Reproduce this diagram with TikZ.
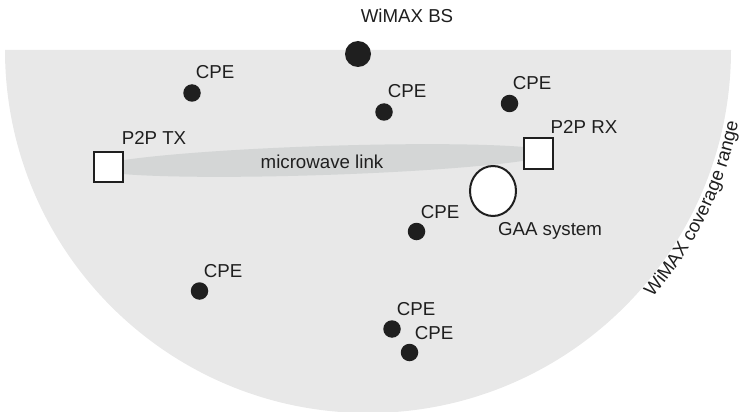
\documentclass[tikz,border=0pt]{standalone}
\usepackage{fontspec}
\setmainfont{Liberation Sans}
\usetikzlibrary{shapes.geometric,decorations.text}
\definecolor{ink}{HTML}{1F1F1F}
\definecolor{cover}{HTML}{E8E8E8}
\definecolor{linkgrey}{HTML}{D4D6D6}
\begin{document}
\begin{tikzpicture}[x=1pt,y=-1pt,
  lbl/.style={font=\fontsize{18.7}{22}\selectfont, text=ink, inner sep=0, anchor=base},
  cpe/.style={circle, fill=ink, minimum size=17.5pt, inner sep=0},
  bs/.style={circle, fill=ink, minimum size=26pt, inner sep=0},
  p2p/.style={rectangle, draw=ink, line width=2pt, fill=white, minimum width=29pt, minimum height=30pt, inner sep=0},
  gaa/.style={ellipse, draw=ink, line width=2pt, fill=white, minimum width=46pt, minimum height=50pt, inner sep=0},
  band/.style={ellipse, fill=linkgrey, minimum width=456pt, minimum height=29pt, inner sep=0}]
\useasboundingbox (0,0) rectangle (740,412);
\coordinate (ctr) at (368,50);
% coverage half-disc
\fill[cover] (5,50) arc[start angle=180, end angle=0, radius=363] -- cycle;
% microwave link band
\node[band, rotate=1.9] (link) at (323.25,160.5) {};
\node[lbl] (linklbl) at (322,168) {microwave link};
% P2P nodes
\node[p2p] (tx) at (108.5,167) {};
\node[p2p] (rx) at (538,153.5) {};
\node[lbl] (txlbl) at (154,145) {P2P TX};
\node[lbl] (rxlbl) at (584,134) {P2P RX};
% GAA
\node[gaa] (gaa) at (493,191) {};
\node[lbl] (gaalbl) at (550,235) {GAA system};
% base station
\node[bs] (bs) at (358,54) {};
\node[lbl] (bslbl) at (407,23) {WiMAX BS};
% CPEs
\node[cpe] (c1) at (192,93) {};
\node[lbl] (c1l) at (215,79) {CPE};
\node[cpe] (c2) at (384,112) {};
\node[lbl] (c2l) at (407,98) {CPE};
\node[cpe] (c3) at (509.5,103.5) {};
\node[lbl] (c3l) at (532,90) {CPE};
\node[cpe] (c4) at (416.5,231.5) {};
\node[lbl] (c4l) at (440,218) {CPE};
\node[cpe] (c5) at (199.5,291) {};
\node[lbl] (c5l) at (223,277) {CPE};
\node[cpe] (c6) at (392,329) {};
\node[lbl] (c6l) at (416,315) {CPE};
\node[cpe] (c7) at (409.5,352.5) {};
\node[lbl] (c7l) at (434,339) {CPE};
% coverage label along the arc
\path[decorate, decoration={text along path, text align=center,
    text={|\fontsize{18.7}{22}\selectfont\color{ink}|WiMAX coverage range}}]
  ([shift={(ctr)}]46:377) arc[start angle=46, end angle=6, radius=377];
\end{tikzpicture}
\end{document}
